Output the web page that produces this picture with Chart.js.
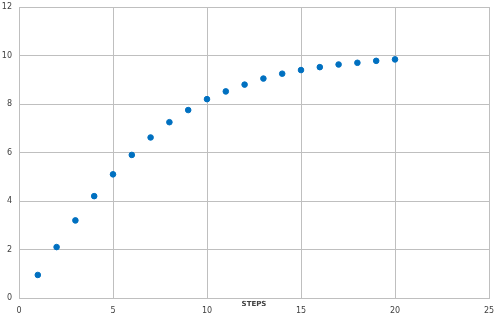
<!DOCTYPE html>
<html>
<head>
<meta charset="utf-8">
<script src="https://cdn.jsdelivr.net/npm/chart.js@4/dist/chart.umd.min.js"></script>
<style>
html,body{margin:0;padding:0;background:#fff;}
#wrap{width:500px;height:315px;position:relative;}
</style>
</head>
<body>
<div id="wrap"><canvas id="c" width="500" height="315"></canvas></div>
<script>
const steps = [1,2,3,4,5,6,7,8,9,10,11,12,13,14,15,16,17,18,19,20];
const values = [0.95,2.1,3.2,4.2,5.1,5.9,6.62,7.25,7.75,8.2,8.52,8.8,9.05,9.25,9.4,9.52,9.63,9.7,9.78,9.84];
const xTicks = [0,5,10,15,20,25];
const yTicks = [0,2,4,6,8,10,12];
const xTitle = "STEPS";

const points = steps.map((s,i)=>({x:s,y:values[i]}));
const grid = {color:'#bfbfbf', lineWidth:1, drawTicks:false};
new Chart(document.getElementById('c'), {
  type:'scatter',
  data:{datasets:[{data:points, backgroundColor:'#0070C0', borderColor:'#0070C0', pointRadius:2.8, pointHoverRadius:2.8}]},
  options:{
    responsive:false, animation:false, devicePixelRatio:1,
    layout:{padding:{top:7,right:11,left:0,bottom:0}},
    plugins:{legend:{display:false}, tooltip:{enabled:false}},
    scales:{
      x:{type:'linear', min:xTicks[0], max:xTicks[xTicks.length-1],
        afterBuildTicks:(ax)=>{ax.ticks=xTicks.map(v=>({value:v}));},
        grid:grid, border:{color:'#bfbfbf'},
        ticks:{font:{family:'DejaVu Sans',size:8}, color:'#404040', padding:8, maxRotation:0},
        title:{display:true, text:xTitle, font:{family:'DejaVu Sans',size:7,weight:'bold'}, color:'#404040', padding:{top:0,bottom:7}},
        afterFit:(ax)=>{ax.height=17; ax.paddingRight=0; ax.paddingLeft=0;}
      },
      y:{type:'linear', min:yTicks[0], max:yTicks[yTicks.length-1],
        afterBuildTicks:(ax)=>{ax.ticks=yTicks.map(v=>({value:v}));},
        grid:grid, border:{color:'#bfbfbf'},
        ticks:{font:{family:'DejaVu Sans',size:8}, color:'#404040', padding:7},
        afterFit:(ax)=>{ax.width=19; ax.paddingTop=0; ax.paddingBottom=0;}
      }
    }
  }
});
</script>
</body>
</html>
